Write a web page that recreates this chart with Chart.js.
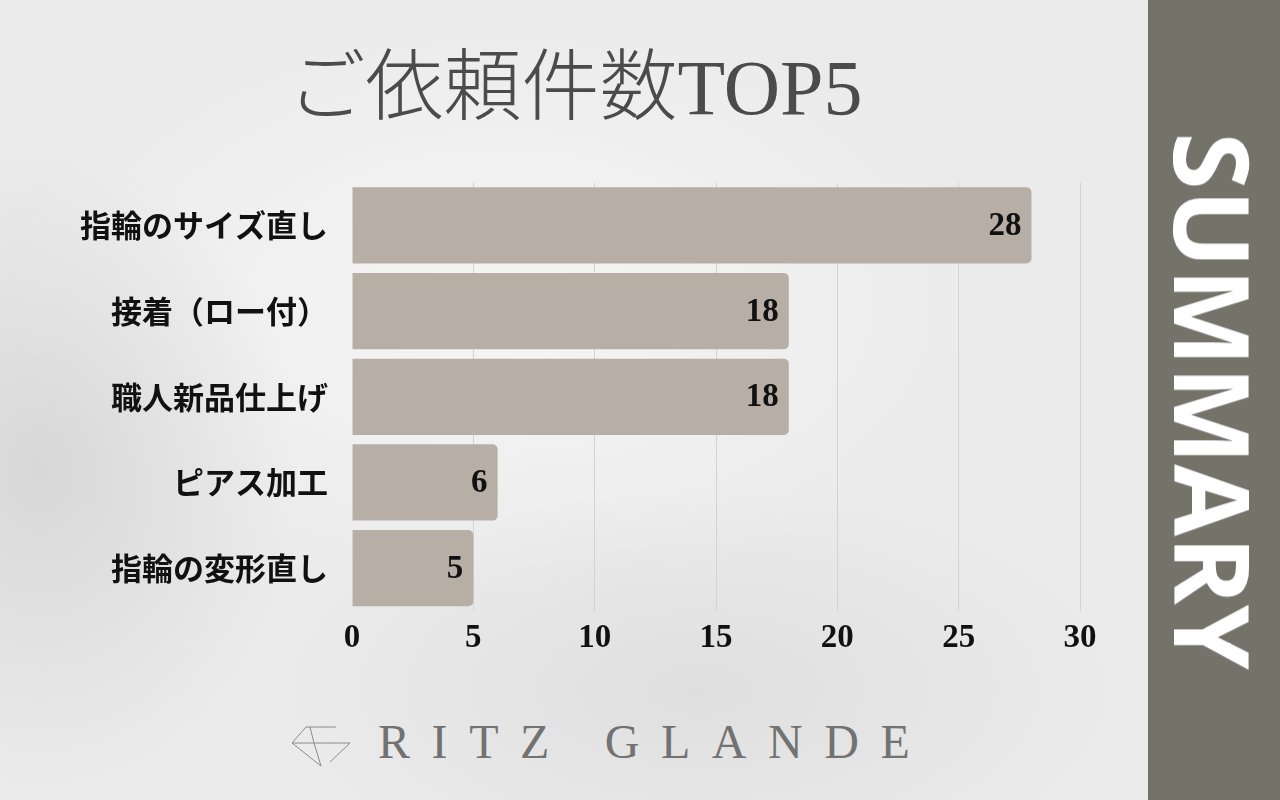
<!DOCTYPE html>
<html lang="ja">
<head>
<meta charset="utf-8">
<script src="https://cdn.jsdelivr.net/npm/chart.js@4.4.1/dist/chart.umd.min.js"></script>
<style>
  html, body { margin: 0; padding: 0; }
  body {
    width: 1280px; height: 800px; position: relative; overflow: hidden;
    background:
      radial-gradient(ellipse 260px 320px at 40px 470px, rgba(200,200,200,0.55), rgba(200,200,200,0) 100%),
      radial-gradient(ellipse 420px 200px at 700px 690px, rgba(215,215,215,0.6), rgba(215,215,215,0) 100%),
      radial-gradient(ellipse 500px 300px at 500px 300px, rgba(250,250,250,0.7), rgba(250,250,250,0) 100%),
      #ebebeb;
  }
  .title {
    position: absolute; left: 0; top: 49px; width: 1150px;
    text-align: center; font-size: 78px; line-height: 1;
    font-family: "Liberation Serif", "Noto Sans CJK JP", serif;
    font-weight: 300; color: #4b4b4b;
  }
  .chart-box { position: absolute; left: 0; top: 140px; width: 1148px; height: 541px; }
  .side { position: absolute; left: 1148px; top: 0; width: 132px; height: 800px; background: #74736a; }
  .side span {
    position: absolute; left: 66px; top: 401px;
    transform: translate(-50%, -50%) rotate(90deg);
    font-family: "Open Sans", sans-serif; font-weight: 700; font-size: 104px;
    color: #fff; white-space: nowrap; line-height: 1;
  }
  .logo { position: absolute; left: 290px; top: 718px; height: 50px; }
  .logo svg { position: absolute; left: 0; top: 4px; }
  .logo span {
    position: absolute; left: 88px; top: 0; white-space: nowrap;
    font-family: "Liberation Serif", serif; font-size: 48px; line-height: 48px;
    letter-spacing: 21.6px; color: #727272;
  }
</style>
</head>
<body>
<div class="title">ご依頼件数TOP5</div>
<div class="chart-box"><canvas id="chart"></canvas></div>
<div class="side"><span>SUMMARY</span></div>
<div class="logo">
  <svg width="62" height="48" viewBox="0 0 62 48">
    <g fill="none" stroke="#8a8a8a" stroke-width="1">
      <polyline points="16,5 46,5"/>
      <polyline points="16,5 2,21 31,44"/>
      <polyline points="2,21 60,21 40,40"/>
      <polyline points="20,5 24,21 31,44"/>
    </g>
  </svg>
  <span>RITZ GLANDE</span>
</div>

<script>
const categories = ["指輪のサイズ直し", "接着（ロー付）", "職人新品仕上げ", "ピアス加工", "指輪の変形直し"];
const counts = [28, 18, 18, 6, 5];
const xTicks = [0, 5, 10, 15, 20, 25, 30];

const numFont = { family: "'Liberation Serif', serif", size: 33, weight: "bold" };

// value labels at the end of each bar
const barValueLabels = {
  id: "barValueLabels",
  afterDatasetsDraw(chart) {
    const ctx = chart.ctx;
    const meta = chart.getDatasetMeta(0);
    ctx.save();
    ctx.font = "bold 33px 'Liberation Serif', serif";
    ctx.fillStyle = "#111";
    ctx.textAlign = "right";
    ctx.textBaseline = "middle";
    meta.data.forEach((bar, i) => {
      ctx.fillText(String(counts[i]), bar.x - 10, bar.y + 1);
    });
    ctx.restore();
  }
};

new Chart(document.getElementById("chart"), {
  type: "bar",
  data: {
    labels: categories,
    datasets: [{
      data: counts,
      backgroundColor: "#b7afa6",
      borderRadius: 5,
      borderSkipped: "start",
      barPercentage: 0.89,
      categoryPercentage: 1
    }]
  },
  options: {
    indexAxis: "y",
    responsive: true,
    maintainAspectRatio: false,
    animation: false,
    layout: { padding: { left: 0, right: 68, top: 0, bottom: 0 } },
    plugins: { legend: { display: false }, tooltip: { enabled: false } },
    scales: {
      x: {
        min: xTicks[0],
        max: xTicks[xTicks.length - 1],
        ticks: { stepSize: xTicks[1] - xTicks[0], color: "#111", font: numFont, padding: 8 },
        grid: {
          drawTicks: false,
          color: (c) => (c.tick && c.tick.value === 0 ? "rgba(0,0,0,0)" : "#d3d3d3"),
          lineWidth: 1
        },
        border: { display: false },
        afterFit(scale) { scale.height = 70; }
      },
      y: {
        ticks: {
          color: "#111",
          padding: 24,
          font: { family: "'Noto Sans CJK JP', sans-serif", size: 31, weight: "bold" }
        },
        grid: { display: false, drawTicks: false },
        border: { display: false },
        afterFit(scale) { scale.width = 352; }
      }
    }
  },
  plugins: [barValueLabels]
});
</script>
</body>
</html>
